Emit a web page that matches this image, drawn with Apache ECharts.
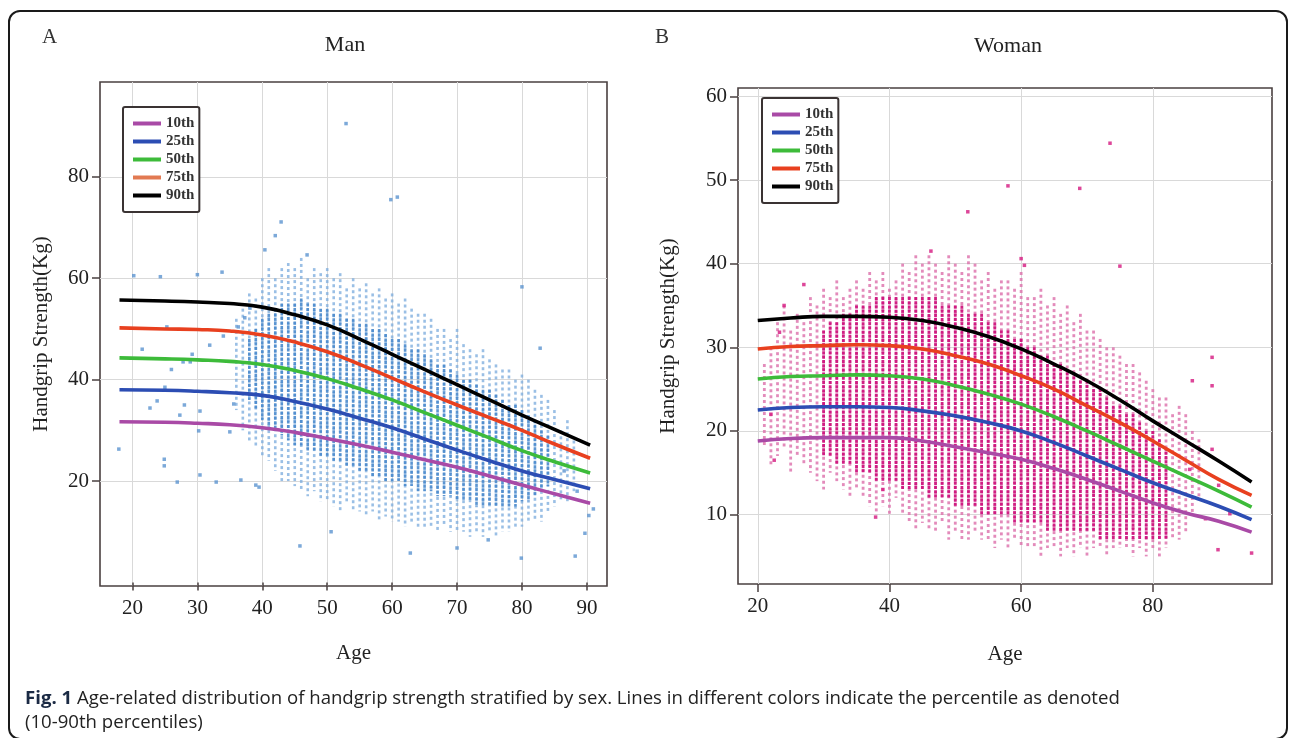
<!DOCTYPE html>
<html><head><meta charset="utf-8">
<script src="https://cdn.jsdelivr.net/npm/echarts@6/dist/echarts.min.js"></script>
<style>html,body{margin:0;padding:0;background:#fff}#c{width:1290px;height:738px}</style>
</head><body><div id="c"></div>
<script>
// ---------- Men (panel A) ----------
const manStripeAges = [36,37,38,39,40,41,42,43,44,45,46,47,48,49,50,51,52,53,54,55,56,57,58,59,60,61,62,63,64,65,66,67,68,69,70,71,72,73,74,75,76,77,78,79,80,81,82,83,84,85,86,87,88];
const manHi = [52,54,57,56,60,62,60,62,63,62,64,60,62,61,62,60,61,58,60,58,59,57,58,56,57,55,56,54,53,53,52,50,50,48,50,47,46,45,46,44,43,42,42,40,41,40,38,37,36,34,30,32,28];
const manLo = [34,30,28,27,25,24,22,20,20,19,18,17,18,16,16,15,14,16,14,14,13,14,12,13,12,12,11,12,11,11,11,10,11,10,10,10,9,10,9,10,9,10,10,11,11,12,12,12,14,15,16,16,18];
const manCoreHi = [null,null,48,50,52,53,54,55,55,55,56,55,55,54,54,53,53,52,52,51,51,50,50,49,48,48,47,46,46,45,44,43,43,42,41,40,40,39,38,38,37,36,35,35,34,33,32,30,29,null,null,null,null];
const manCoreLo = [null,null,36,34,32,31,30,29,28,27,27,26,26,25,25,24,24,23,23,22,22,21,21,20,20,20,19,19,18,18,18,17,17,17,16,16,16,15,15,15,15,15,15,15,16,16,17,18,19,null,null,null,null];
const manPoints = [[52.9,90.5],[59.8,75.5],[60.8,76],[42.9,71.1],[42,68.4],[40.4,65.6],[46.9,64.6],[80,58.3],[82.8,46.2],[88.2,5.2],[79.9,4.8],[62.8,5.8],[45.8,7.2],[50.6,10],[70,6.8],[74.8,8.4],[89.7,9.7],[90.3,13.2],[91,14.5],[88.5,18],[86.5,22],[20.2,60.5],[22.7,34.4],[23.8,35.8],[25,38.5],[25.3,50.4],[24.9,24.3],[24.9,23],[26.9,19.8],[27.3,33],[28,35],[27.8,43.5],[28.9,43.5],[29.2,45],[30,60.7],[30.4,33.8],[30.2,29.9],[30.4,21.2],[31.9,46.8],[32.9,19.8],[33.8,61.2],[34,48.6],[35,29.7],[35.6,35.2],[36.3,50.4],[36.7,20.2],[37.3,52.2],[38.1,54.1],[39,19.2],[39.5,18.8],[17.9,26.3],[21.5,46],[26,42],[24.3,60.3]];
const manLineAges = [18,25,30,35,40,45,50,55,60,65,70,75,80,85,90.5];
const manP10 = [31.7,31.6,31.4,31.1,30.5,29.6,28.4,27.1,25.7,24.2,22.7,21.0,19.2,17.5,15.6];
const manP25 = [38.0,37.9,37.7,37.4,36.9,35.7,34.2,32.4,30.5,28.3,26.1,24.0,22.0,20.3,18.5];
const manP50 = [44.3,44.1,43.9,43.6,43.0,41.8,40.2,38.2,36.0,33.5,31.0,28.5,26.0,23.8,21.6];
const manP75 = [50.2,50.0,49.9,49.6,48.8,47.4,45.5,43.0,40.3,37.6,35.0,32.5,30.0,27.3,24.5];
const manP90 = [55.7,55.5,55.3,55.0,54.3,52.8,50.8,48.0,45.0,42.0,39.0,36.0,33.0,30.2,27.1];
const manXTicks = [20,30,40,50,60,70,80,90];
const manYTicks = [20,40,60,80];

// ---------- Women (panel B) ----------
const womanStripeAges = [21,22,23,24,25,26,27,28,29,30,31,32,33,34,35,36,37,38,39,40,41,42,43,44,45,46,47,48,49,50,51,52,53,54,55,56,57,58,59,60,61,62,63,64,65,66,67,68,69,70,71,72,73,74,75,76,77,78,79,80,81,82,83,84,85,86,87];
const womanHi = [28,30,33,35,32,34,33,36,35,37,36,38,36,37,38,37,39,38,39,37,38,40,39,41,40,41,40,39,41,40,39,41,40,38,39,37,38,38,37,39,36,36,37,35,36,34,35,33,34,32,32,31,30,30,29,28,28,27,26,25,24,24,22,23,22,20,19];
const womanLo = [18,16,17,18,15,17,16,15,14,13,15,14,13,12,13,12,11,10,11,10,12,10,9,8,9,8,8,9,7,8,7,7,8,7,7,6,7,6,7,6,6,6,5,6,6,5,6,5,6,5,6,6,5,6,6,6,5,6,5,6,5,6,7,7,8,10,12];
const womanCoreHi = [null,null,null,null,null,null,null,null,null,32,33,33,34,34,35,35,35,36,36,36,36,36,36,36,36,36,36,35,35,35,35,34,34,34,33,33,32,32,31,31,30,30,29,29,28,28,27,27,26,26,25,25,24,23,23,22,22,21,20,20,19,18,null,null,null,null,null];
const womanCoreLo = [null,null,null,null,null,null,null,null,null,17,17,16,16,16,15,15,15,14,14,14,14,13,13,13,13,12,12,12,12,11,11,11,11,10,10,10,10,10,9,9,9,9,9,8,8,8,8,8,8,8,8,7,7,7,7,7,7,7,7,7,7,7,null,null,null,null,null];
const womanPoints = [[73.5,54.4],[58,49.3],[68.9,49],[51.9,46.2],[46.3,41.5],[60,40.6],[60.5,39.8],[75,39.7],[89,25.4],[89,28.8],[85.6,15.4],[89,17.8],[91.7,10.1],[89.9,5.8],[95,5.4],[39,13],[37.9,9.7],[88,9.5],[90,13.5],[86,26],[22,22],[22.5,16.5],[23.3,31.8],[24,35],[27,37.5]];
const womanLineAges = [20,25,30,35,40,45,50,55,60,65,70,75,80,85,90,95];
const womanP10 = [18.8,19.1,19.2,19.2,19.2,18.8,18.1,17.4,16.6,15.5,14.2,12.8,11.4,10.2,9.2,7.9];
const womanP25 = [22.5,22.8,22.9,22.9,22.8,22.4,21.8,21.0,20.0,18.6,17.0,15.4,13.8,12.4,11.0,9.4];
const womanP50 = [26.2,26.5,26.6,26.7,26.6,26.2,25.4,24.4,23.2,21.7,20.0,18.2,16.4,14.6,12.8,10.9];
const womanP75 = [29.8,30.1,30.2,30.3,30.2,29.8,29.0,28.0,26.6,25.0,23.0,21.0,18.8,16.5,14.2,12.3];
const womanP90 = [33.2,33.5,33.7,33.7,33.6,33.2,32.4,31.3,29.8,28.0,26.0,23.7,21.2,18.8,16.4,13.9];
const womanXTicks = [20,40,60,80];
const womanYTicks = [10,20,30,40,50,60];

const pctNames = ['10th','25th','50th','75th','90th'];
const pctColors = ['#a94aa6','#2c4db3','#3dbb3a','#e8401f','#000000'];

// ---------- build ----------
const SERIF = '"Liberation Serif","DejaVu Serif",serif';
function zip(xs, ys){ return xs.map((x,i)=>[x, ys[i]]); }
function stripes(ages, lo, hi){ const d=[]; ages.forEach((a,i)=>{ if(lo[i]!=null && hi[i]!=null) d.push([a, lo[i], hi[i]]); }); return d; }
function stripeSeries(idx, data, color, width, dash, z){
  return {type:'custom', xAxisIndex:idx, yAxisIndex:idx, z:z, silent:true,
    encode:{x:0, y:[1,2]}, data:data,
    renderItem:function(params, api){
      const p1 = api.coord([api.value(0), api.value(2)]);
      const p2 = api.coord([api.value(0), api.value(1)]);
      return {type:'line', shape:{x1:p1[0],y1:p1[1],x2:p2[0],y2:p2[1]},
        style:{stroke:color, lineWidth:width, lineDash:dash}};
    }};
}
function lineSeries(idx, ages, vals, k){
  return {type:'line', name:pctNames[k], xAxisIndex:idx, yAxisIndex:idx, data:zip(ages, vals),
    smooth:0.5, showSymbol:false, symbol:'none', z:5,
    lineStyle:{color:pctColors[k], width:3.6}, itemStyle:{color:pctColors[k]}};
}
function xAxis(idx, min, max, ticks, gap){
  return {type:'value', gridIndex:idx, min:min, max:max, name:'Age', nameLocation:'middle', nameGap:gap,
    nameTextStyle:{fontFamily:SERIF, fontSize:21, color:'#222'},
    axisLine:{show:false},
    axisTick:{show:true, customValues:ticks, length:8, lineStyle:{color:'#4a4040', width:1.5}},
    axisLabel:{customValues:ticks, fontFamily:SERIF, fontSize:21, color:'#222', margin:12},
    splitLine:{show:true, lineStyle:{color:'#d9d9d9', width:1}}};
}
function yAxis(idx, min, max, ticks, gap){
  return {type:'value', gridIndex:idx, min:min, max:max, name:'Handgrip Strength(Kg)', nameLocation:'middle', nameGap:gap,
    nameTextStyle:{fontFamily:SERIF, fontSize:21, color:'#222'},
    axisLine:{show:false},
    axisTick:{show:true, customValues:ticks, length:8, lineStyle:{color:'#4a4040', width:1.5}},
    axisLabel:{customValues:ticks, fontFamily:SERIF, fontSize:21, color:'#222', margin:11},
    splitLine:{show:true, lineStyle:{color:'#d9d9d9', width:1}}};
}
function legend(left, top, color75){
  return {orient:'vertical', left:left, top:top, padding:[9,5,9,10], itemGap:3, itemWidth:28, itemHeight:4,
    icon:'rect', borderColor:'#3a3333', borderWidth:2, borderRadius:2, backgroundColor:'#fff',
    textStyle:{fontFamily:SERIF, fontWeight:'bold', fontSize:15, color:'#333', lineHeight:15},
    data:pctNames.map((n,k)=>({name:n, icon:'rect', itemStyle:{color:k===3?color75:pctColors[k]}}))};
}

const series = [];
series.push(stripeSeries(0, stripes(manStripeAges, manLo, manHi), 'rgba(120,170,220,0.75)', 2.6, [3,3], 1));
series.push(stripeSeries(0, stripes(manStripeAges, manCoreLo, manCoreHi), 'rgba(74,138,204,0.9)', 2.6, [3,1.5], 2));
series.push({type:'scatter', xAxisIndex:0, yAxisIndex:0, data:manPoints, symbol:'rect', symbolSize:3.5, z:3, silent:true, itemStyle:{color:'#5b93cf'}});
series.push(stripeSeries(1, stripes(womanStripeAges, womanLo, womanHi), 'rgba(220,110,170,0.8)', 2.8, [3,3], 1));
series.push(stripeSeries(1, stripes(womanStripeAges, womanCoreLo, womanCoreHi), 'rgba(205,20,125,0.95)', 2.8, [3,1.2], 2));
series.push({type:'scatter', xAxisIndex:1, yAxisIndex:1, data:womanPoints, symbol:'rect', symbolSize:3.5, z:3, silent:true, itemStyle:{color:'#d4187f'}});
[manP10,manP25,manP50,manP75,manP90].forEach((v,k)=>series.push(lineSeries(0, manLineAges, v, k)));
[womanP10,womanP25,womanP50,womanP75,womanP90].forEach((v,k)=>series.push(lineSeries(1, womanLineAges, v, k)));

const option = {
  animation:false,
  backgroundColor:'#fff',
  title:[
    {text:'Man', left:340, top:29, textAlign:'center', textStyle:{fontFamily:SERIF, fontSize:22, fontWeight:'normal', color:'#222'}},
    {text:'Woman', left:1003, top:30, textAlign:'center', textStyle:{fontFamily:SERIF, fontSize:22, fontWeight:'normal', color:'#222'}}
  ],
  legend:[legend(123, 107, '#e27a52'), legend(762, 98, '#e8401f')],
  grid:[
    {left:100, top:82, width:507, height:504, show:true, borderColor:'#4a4040', borderWidth:1.6, backgroundColor:'transparent'},
    {left:738, top:88, width:534, height:496, show:true, borderColor:'#4a4040', borderWidth:1.6, backgroundColor:'transparent'}
  ],
  xAxis:[xAxis(0, 15, 93.1, manXTicks, 57), xAxis(1, 17, 98.1, womanXTicks, 60)],
  yAxis:[yAxis(0, -0.7, 98.7, manYTicks, 48), yAxis(1, 1.7, 61, womanYTicks, 59)],
  graphic:[
    {type:'rect', shape:{x:9, y:11, width:1278, height:728, r:11}, style:{fill:null, stroke:'#1a1a1a', lineWidth:2}, silent:true, z:100},
    {type:'text', left:42, top:27, style:{text:'A', font:'21px "Liberation Serif", serif', fill:'#333'}},
    {type:'text', left:655, top:27, style:{text:'B', font:'21px "Liberation Serif", serif', fill:'#333'}},
    {type:'text', left:25, top:689, style:{
      text:'{b|Fig. 1} Age-related distribution of handgrip strength stratified by sex. Lines in different colors indicate the percentile as denoted',
      font:'18.6px "Open Sans", sans-serif', fill:'#222',
      rich:{b:{font:'bold 18.6px "Open Sans", sans-serif', fill:'#1b2a44'}}}},
    {type:'text', left:25, top:713, style:{text:'(10-90th percentiles)', font:'18.6px "Open Sans", sans-serif', fill:'#222'}}
  ],
  series:series
};
const chart = echarts.init(document.getElementById('c'), null, {renderer:'canvas'});
chart.setOption(option);
</script></body></html>
